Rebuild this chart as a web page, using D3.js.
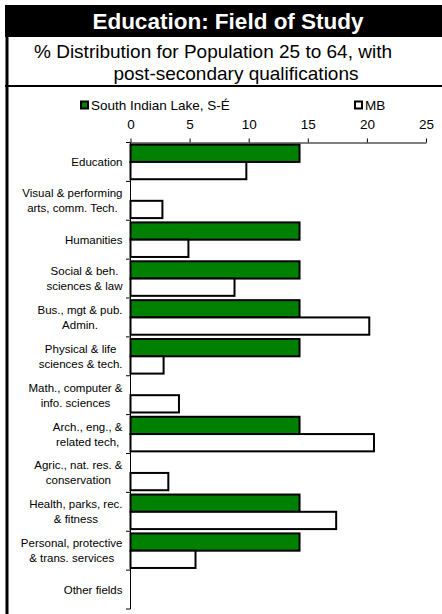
<!DOCTYPE html>
<html><head><meta charset="utf-8">
<script src="https://cdn.jsdelivr.net/npm/d3@7"></script>
<style>
html,body{margin:0;padding:0;background:#fff;}
svg{display:block;font-family:"Liberation Sans",Arial,sans-serif;}
</style></head>
<body>
<svg id="chart" width="442" height="614"></svg>
<script>
const titleText = "Education: Field of Study";
const subtitleLines = ["% Distribution for Population 25 to 64, with", "post-secondary qualifications"];
const categories = [
  "Education",
  "Visual & performing\narts, comm. Tech.",
  "Humanities",
  "Social & beh.\nsciences & law",
  "Bus., mgt & pub.\nAdmin.",
  "Physical & life\nsciences & tech.",
  "Math., computer &\ninfo. sciences",
  "Arch., eng., &\nrelated tech,",
  "Agric., nat. res. &\nconservation",
  "Health, parks, rec.\n& fitness",
  "Personal, protective\n& trans. services",
  "Other fields"
];
const seriesNames = ["South Indian Lake, S-É", "MB"];
const southIndianLake = [14.3, 0, 14.3, 14.3, 14.3, 14.3, 0, 14.3, 0, 14.3, 14.3, 0];
const mb = [9.8, 2.7, 4.9, 8.8, 20.2, 2.8, 4.1, 20.6, 3.2, 17.4, 5.5, 0];
const tickValues = [0, 5, 10, 15, 20, 25];
const seriesColors = ["#008000", "#ffffff"];

const svg = d3.select("#chart");

// Frame
svg.append("rect").attr("x", 5).attr("y", 5).attr("width", 437).attr("height", 32).attr("fill", "#000");
svg.append("line").attr("x1", 7).attr("x2", 7).attr("y1", 5).attr("y2", 614).attr("stroke", "#000").attr("stroke-width", 3);
svg.append("line").attr("x1", 5).attr("x2", 442).attr("y1", 86).attr("y2", 86).attr("stroke", "#000").attr("stroke-width", 2);

svg.append("text").attr("x", 228).attr("y", 29).attr("text-anchor", "middle")
  .attr("fill", "#fff").attr("font-weight", "bold").attr("font-size", 22.5).text(titleText);
svg.append("text").attr("text-anchor", "middle").attr("font-size", 19).attr("fill", "#000")
  .selectAll("tspan").data(subtitleLines).join("tspan")
  .attr("x", (d, i) => i === 0 ? 213 : 236).attr("y", (d, i) => 58 + i * 22).text(d => d);

// Scales
const x = d3.scaleLinear().domain([0, 25]).range([130.5, 426]);
const y = d3.scaleBand().domain(categories).range([142.5, 609]).paddingInner(0).paddingOuter(0);
const sub = d3.scaleBand().domain([0, 1]).range([0, y.bandwidth()]).paddingOuter(0.125).paddingInner(0);

// Bars
const seriesData = [southIndianLake, mb];
seriesData.forEach((vals, s) => {
  svg.append("g").selectAll("rect").data(categories.map((c, i) => ({c, v: vals[i]})).filter(d => d.v > 0))
    .join("rect")
    .attr("x", x(0))
    .attr("y", d => y(d.c) + sub(s))
    .attr("width", d => x(d.v) - x(0))
    .attr("height", sub.bandwidth())
    .attr("fill", seriesColors[s])
    .attr("stroke", "#000")
    .attr("stroke-width", 2);
});

// Top axis
const xAxis = d3.axisTop(x).tickValues(tickValues).tickSize(4).tickPadding(10).tickSizeOuter(0);
const gx = svg.append("g").attr("transform", "translate(0,142.5)").call(xAxis);
gx.select(".domain").attr("stroke", "#000");
gx.selectAll(".tick line").attr("stroke", "#000");
gx.selectAll(".tick text").attr("font-size", 13.5).attr("font-family", "Liberation Sans, Arial, sans-serif").attr("fill", "#000");

// Left axis line + ticks at band boundaries
const gy = svg.append("g");
gy.append("line").attr("x1", 130.5).attr("x2", 130.5).attr("y1", 142.5).attr("y2", 609).attr("stroke", "#000");
const bounds = categories.map(c => y(c)).concat([y(categories[categories.length - 1]) + y.bandwidth()]);
gy.selectAll("line.tk").data(bounds).join("line").attr("class", "tk")
  .attr("x1", 126).attr("x2", 130.5).attr("y1", d => d).attr("y2", d => d).attr("stroke", "#000");

// Category labels (multi-line, block right-aligned, lines centered)
const lineH = 15;
categories.forEach(c => {
  const lines = c.split("\n");
  const cy = y(c) + y.bandwidth() / 2;
  const g = svg.append("g");
  const texts = lines.map((l, i) => g.append("text").attr("font-size", 11.5).attr("fill", "#000")
    .attr("y", cy + (i - (lines.length - 1) / 2) * lineH + 4).text(l));
  const widths = texts.map(t => t.node().getComputedTextLength());
  const maxW = Math.max(...widths);
  const right = 122.5;
  texts.forEach((t, i) => t.attr("x", right - maxW / 2).attr("text-anchor", "middle"));
});

// Legend
const legend = [
  {name: seriesNames[0], color: seriesColors[0], x: 81},
  {name: seriesNames[1], color: seriesColors[1], x: 355}
];
legend.forEach(l => {
  svg.append("rect").attr("x", l.x).attr("y", 101.5).attr("width", 7).attr("height", 7)
    .attr("fill", l.color).attr("stroke", "#000").attr("stroke-width", 2);
  svg.append("text").attr("x", l.x + 10).attr("y", 109.5).attr("font-size", 13.5).attr("fill", "#000").text(l.name);
});
</script>
</body></html>
